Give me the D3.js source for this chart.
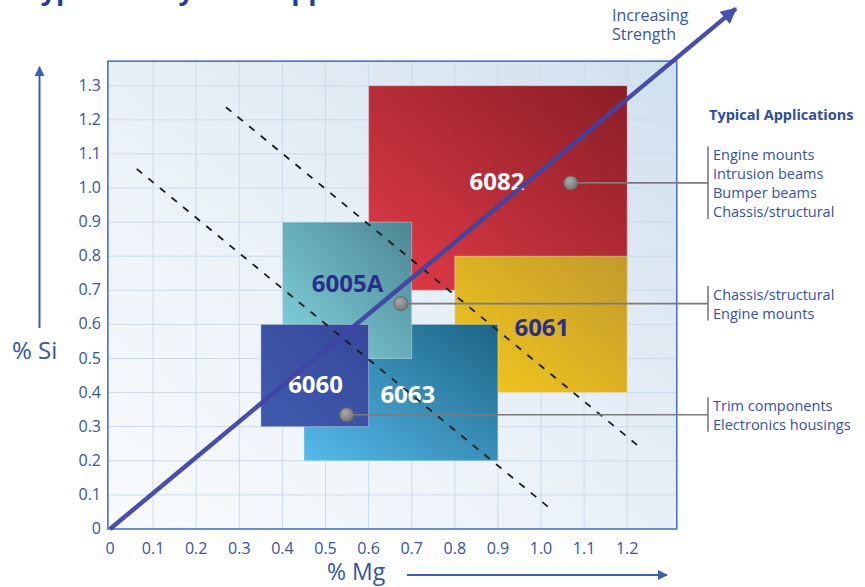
<!DOCTYPE html>
<html><head><meta charset="utf-8">
<script src="https://cdn.jsdelivr.net/npm/d3@7"></script>
<style>
html,body{margin:0;padding:0;background:#fff;}
svg{display:block;font-family:"Open Sans",sans-serif;}
</style></head>
<body><svg id="chart" width="865" height="587"></svg>
<script>
// Alloy composition windows (wt % Mg on x, wt % Si on y)
const alloys = ["6082", "6061", "6063", "6005A", "6060"];
const mgMin  = [0.60, 0.80, 0.45, 0.40, 0.35];
const mgMax  = [1.20, 1.20, 0.90, 0.70, 0.60];
const siMin  = [0.70, 0.40, 0.20, 0.50, 0.30];
const siMax  = [1.30, 0.80, 0.60, 0.90, 0.60];

const xTicks = [0, 0.1, 0.2, 0.3, 0.4, 0.5, 0.6, 0.7, 0.8, 0.9, 1.0, 1.1, 1.2];
const yTicks = [0, 0.1, 0.2, 0.3, 0.4, 0.5, 0.6, 0.7, 0.8, 0.9, 1.0, 1.1, 1.2, 1.3];
const xTickText = ["0", "0.1", "0.2", "0.3", "0.4", "0.5", "0.6", "0.7", "0.8", "0.9", "1.0", "1.1", "1.2"];
const yTickText = ["0", "0.1", "0.2", "0.3", "0.4", "0.5", "0.6", "0.7", "0.8", "0.9", "1.0", "1.1", "1.2", "1.3"];

// Iso-strength contours and the strength direction (Mg, Si)
const contourLow  = [[0.062, 1.056], [1.027, 0.054]];
const contourHigh = [[0.269, 1.237], [1.234, 0.235]];
const strengthDir = [[0, 0], [1.452, 1.526]];

// Application call-outs: anchor point (Mg, Si) and listed uses
const appAlloy = ["6082", "6005A", "6060"];
const appMg    = [1.069, 0.675, 0.549];
const appSi    = [1.015, 0.661, 0.335];
const appItems = [
  ["Engine mounts", "Intrusion beams", "Bumper beams", "Chassis/structural"],
  ["Chassis/structural", "Engine mounts"],
  ["Trim components", "Electronics housings"]
];

// Label anchor per alloy (Mg, Si of text centre)
const labelMg = [0.898, 1.002, 0.691, 0.551, 0.477];
const labelSi = [1.018, 0.592, 0.394, 0.720, 0.424];

const boxColors = {
  "6082":  ["#e33c48", "#8a1d26"],
  "6061":  ["#f4c91c", "#c29a2c"],
  "6063":  ["#56baec", "#1c6484"],
  "6005A": ["#82d6e1", "#4d8592"],
  "6060":  ["#405bae", "#36489b"]
};
const labelColors = {"6082": "#ffffff", "6061": "#2a2d8a", "6063": "#ffffff", "6005A": "#2a2d8a", "6060": "#ffffff"};

const svg = d3.select("#chart");
const x = d3.scaleLinear().domain([0, 1.3]).range([110, 110 + 431 * 1.3]);
const y = d3.scaleLinear().domain([0, 1.3]).range([529, 529 - 341 * 1.3]);
const frameX = [-0.005, 1.315], frameY = [0, 1.372];

const defs = svg.append("defs");
const bg = defs.append("linearGradient").attr("id", "bg")
  .attr("x1", 0).attr("y1", 1).attr("x2", 1).attr("y2", 0);
bg.append("stop").attr("offset", 0).attr("stop-color", "#f9fbfd");
bg.append("stop").attr("offset", 0.5).attr("stop-color", "#e8f0f7");
bg.append("stop").attr("offset", 1).attr("stop-color", "#d1e0ee");

alloys.forEach((a, i) => {
  const g = defs.append("linearGradient").attr("id", "g" + i)
    .attr("x1", 0).attr("y1", 1).attr("x2", 1).attr("y2", 0);
  g.append("stop").attr("offset", 0).attr("stop-color", boxColors[a][0]);
  g.append("stop").attr("offset", 1).attr("stop-color", boxColors[a][1]);
});
const dg = defs.append("radialGradient").attr("id", "dot").attr("cx", 0.4).attr("cy", 0.35).attr("r", 0.7);
dg.append("stop").attr("offset", 0).attr("stop-color", "#a8a8a8");
dg.append("stop").attr("offset", 1).attr("stop-color", "#747474");

["ah", "ahs"].forEach((id, k) => {
  defs.append("marker").attr("id", id)
    .attr("viewBox", "0 0 10 10").attr("refX", 9).attr("refY", 5)
    .attr("markerUnits", "userSpaceOnUse")
    .attr("markerWidth", k ? 11 : 20).attr("markerHeight", k ? 10 : 16)
    .attr("orient", "auto")
    .append("path").attr("d", "M0,0 L10,5 L0,10 Z")
    .attr("fill", k ? "#3a5fb5" : "#4452ad");
});

// Title (runs off the top edge)
svg.append("text").attr("x", 25).attr("y", 0)
  .attr("font-size", 27).attr("font-weight", 700).attr("fill", "#1f3f9a")
  .text("Typical Alloys and Applications");

// Plot panel
svg.append("rect")
  .attr("x", x(frameX[0])).attr("y", y(frameY[1]))
  .attr("width", x(frameX[1]) - x(frameX[0])).attr("height", y(frameY[0]) - y(frameY[1]))
  .attr("fill", "url(#bg)");

const grid = svg.append("g").attr("stroke", "#cbdbea").attr("stroke-width", 1);
grid.selectAll(".vx").data(xTicks.slice(1)).join("line")
  .attr("x1", d => x(d)).attr("x2", d => x(d))
  .attr("y1", y(frameY[0])).attr("y2", y(frameY[1]));
grid.selectAll(".hy").data(yTicks.slice(1)).join("line")
  .attr("y1", d => y(d)).attr("y2", d => y(d))
  .attr("x1", x(frameX[0])).attr("x2", x(frameX[1]));

// Alloy boxes
svg.append("g").selectAll("rect").data(alloys).join("rect")
  .attr("x", (d, i) => x(mgMin[i]))
  .attr("y", (d, i) => y(siMax[i]))
  .attr("width", (d, i) => x(mgMax[i]) - x(mgMin[i]))
  .attr("height", (d, i) => y(siMin[i]) - y(siMax[i]))
  .attr("fill", (d, i) => "url(#g" + i + ")")
  .attr("stroke", "rgba(255,255,255,0.35)").attr("stroke-width", 1);

svg.append("g").selectAll("text").data(alloys).join("text")
  .attr("x", (d, i) => x(labelMg[i]))
  .attr("y", (d, i) => y(labelSi[i]) + 8.5)
  .attr("text-anchor", "middle")
  .attr("font-size", 24).attr("font-weight", 700)
  .attr("fill", d => labelColors[d])
  .text(d => d);

// Iso-strength contours
const line = d3.line().x(d => x(d[0])).y(d => y(d[1]));
svg.append("g").selectAll("path").data([contourLow, contourHigh]).join("path")
  .attr("d", line).attr("fill", "none")
  .attr("stroke", "#1b1b1b").attr("stroke-width", 1.8)
  .attr("stroke-dasharray", "7 8");

// Frame
svg.append("rect")
  .attr("x", x(frameX[0])).attr("y", y(frameY[1]))
  .attr("width", x(frameX[1]) - x(frameX[0])).attr("height", y(frameY[0]) - y(frameY[1]))
  .attr("fill", "none").attr("stroke", "#4a72c2").attr("stroke-width", 1.6);

// Call-out connectors, brackets and text
const bracketX = 708, lh = 19;
appAlloy.forEach((a, i) => {
  const cy = y(appSi[i]), cx = x(appMg[i]);
  const n = appItems[i].length;
  const g = svg.append("g");
  g.append("line").attr("x1", cx).attr("x2", bracketX).attr("y1", cy).attr("y2", cy)
    .attr("stroke", "#7b7b7b").attr("stroke-width", 1.6);
  g.append("line").attr("x1", bracketX).attr("x2", bracketX)
    .attr("y1", cy - (n - 1) * lh / 2 - 8).attr("y2", cy + (n - 1) * lh / 2 + 7.5)
    .attr("stroke", "#7b7b7b").attr("stroke-width", 1.6);
  g.selectAll("text").data(appItems[i]).join("text")
    .attr("x", bracketX + 5)
    .attr("y", (d, k) => cy - (n - 1) * lh / 2 + k * lh + 5.5)
    .attr("font-size", 14.5).attr("fill", "#3550a8")
    .text(d => d);
  g.append("circle").attr("cx", cx).attr("cy", cy).attr("r", 7)
    .attr("fill", "url(#dot)").attr("stroke", "#666").attr("stroke-width", 1);
});

svg.append("text").attr("x", 709).attr("y", 120)
  .attr("font-size", 14.5).attr("font-weight", 700).attr("fill", "#2f4ca2")
  .text("Typical Applications");

// Strength direction
svg.append("path").datum(strengthDir).attr("d", line)
  .attr("fill", "none").attr("stroke", "#3f45a3").attr("stroke-width", 4.5)
  .attr("stroke-opacity", 0.95)
  .attr("marker-end", "url(#ah)");
svg.append("text").attr("x", 612).attr("y", 21).attr("font-size", 16).attr("fill", "#3a52aa").text("Increasing");
svg.append("text").attr("x", 612).attr("y", 40).attr("font-size", 16).attr("fill", "#3a52aa").text("Strength");

// Tick labels
svg.append("g").selectAll("text").data(xTicks).join("text")
  .attr("x", d => x(d)).attr("y", 554).attr("text-anchor", "middle")
  .attr("font-size", 16).attr("fill", "#3553a5")
  .text((d, i) => xTickText[i]);
svg.append("g").selectAll("text").data(yTicks).join("text")
  .attr("x", 101).attr("y", d => y(d) + 5).attr("text-anchor", "end")
  .attr("font-size", 16).attr("fill", "#3553a5")
  .text((d, i) => yTickText[i]);

// Axis titles with direction arrows
svg.append("text").attr("x", 327).attr("y", 580).attr("font-size", 23).attr("fill", "#3553a5").text("% Mg");
svg.append("line").attr("x1", 407).attr("x2", 667).attr("y1", 575).attr("y2", 575)
  .attr("stroke", "#3a5fb5").attr("stroke-width", 2).attr("marker-end", "url(#ahs)");
svg.append("text").attr("x", 12).attr("y", 359).attr("font-size", 24).attr("fill", "#3553a5").text("% Si");
svg.append("line").attr("x1", 39.5).attr("x2", 39.5).attr("y1", 328).attr("y2", 67)
  .attr("stroke", "#3a5fb5").attr("stroke-width", 2).attr("marker-end", "url(#ahs)");
</script>
</body></html>
